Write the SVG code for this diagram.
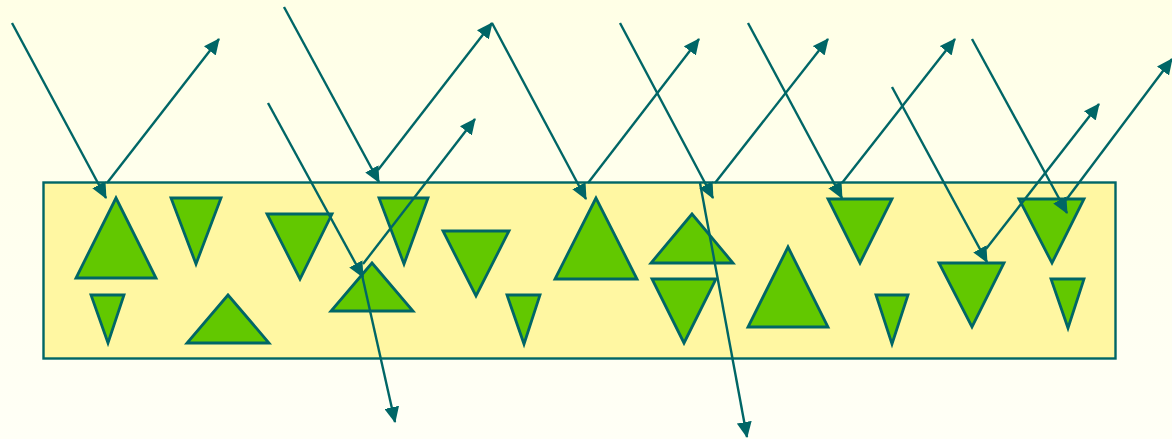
<svg xmlns="http://www.w3.org/2000/svg" width="1172" height="439" viewBox="0 0 1172 439">
<style>
.tri{fill:#62C800;stroke:#006666;stroke-width:2.8;stroke-linejoin:miter}
.ray{stroke:#006666;stroke-width:2.4;fill:none;marker-end:url(#ah)}
</style>
<defs>
<linearGradient id="bg" x1="0" y1="0" x2="0" y2="1">
<stop offset="0" stop-color="#FFFFE6"/>
<stop offset="1" stop-color="#FFFFF6"/>
</linearGradient>
<marker id="ah" markerUnits="userSpaceOnUse" markerWidth="16" markerHeight="15" viewBox="0 0 16 15" refX="15" refY="7.5" orient="auto">
<path d="M0,0 L16,7.5 L0,15 z" fill="#006666"/>
</marker>
</defs>
<rect x="0" y="0" width="1172" height="439" fill="url(#bg)"/>
<g id="slab">
<rect x="43.5" y="182.5" width="1072" height="176" fill="#FFF7A2" stroke="#006666" stroke-width="2.4"/>
</g>
<g id="particles">
<polygon class="tri" points="116,198 76,278 156,278"/>
<polygon class="tri" points="171,198 221,198 196,264"/>
<polygon class="tri" points="267,214 332,214 300,279"/>
<polygon class="tri" points="91,295 124,295 108,343"/>
<polygon class="tri" points="228,295 187,343 269,343"/>
<polygon class="tri" points="372,263 331,311 413,311"/>
<polygon class="tri" points="379,198 428,198 404,264"/>
<polygon class="tri" points="443,231 509,231 476,296"/>
<polygon class="tri" points="507,295 540,295 524,344"/>
<polygon class="tri" points="596,198 555,279 637,279"/>
<polygon class="tri" points="692,214 651,263 733,263"/>
<polygon class="tri" points="652,279 716,279 684,343"/>
<polygon class="tri" points="788,247 748,327 828,327"/>
<polygon class="tri" points="828,199 892,199 860,263"/>
<polygon class="tri" points="876,295 908,295 892,344"/>
<polygon class="tri" points="939,263 1004,263 972,327"/>
<polygon class="tri" points="1019,199 1084,199 1052,263"/>
<polygon class="tri" points="1051,279 1084,279 1068,328"/>
</g>
<g id="rays">
<line class="ray" x1="12" y1="23" x2="106" y2="198"/>
<line class="ray" x1="107" y1="183" x2="219" y2="39"/>
<line class="ray" x1="284" y1="7" x2="379" y2="182"/>
<line class="ray" x1="378" y1="170" x2="492" y2="23"/>
<line class="ray" x1="492" y1="23" x2="586" y2="199"/>
<line class="ray" x1="588" y1="183" x2="699" y2="39"/>
<line class="ray" x1="620" y1="23" x2="713" y2="198"/>
<line class="ray" x1="700" y1="183" x2="747" y2="437"/>
<line class="ray" x1="715" y1="183" x2="828" y2="39"/>
<line class="ray" x1="748" y1="23" x2="842" y2="198"/>
<line class="ray" x1="842" y1="183" x2="955" y2="39"/>
<line class="ray" x1="892" y1="87" x2="987" y2="262"/>
<line class="ray" x1="986" y1="249" x2="1099" y2="104"/>
<line class="ray" x1="972" y1="39" x2="1067" y2="213"/>
<line class="ray" x1="1066" y1="200" x2="1172" y2="59"/>
<line class="ray" x1="268" y1="103" x2="363" y2="277"/>
<line class="ray" x1="362" y1="275" x2="395" y2="422"/>
<line class="ray" x1="363" y1="264" x2="475" y2="119"/>
</g>
</svg>
